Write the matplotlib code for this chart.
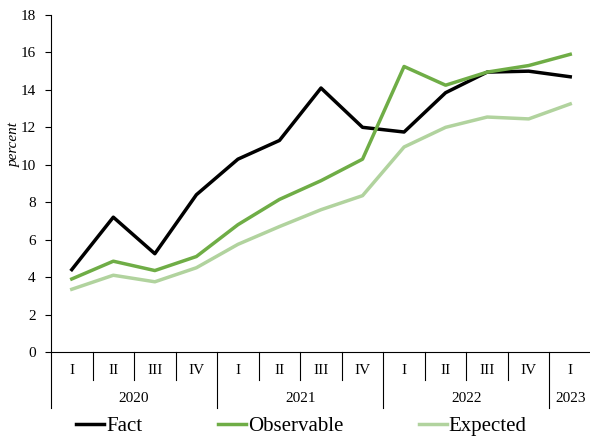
import matplotlib
matplotlib.use("Agg")
import matplotlib.pyplot as plt
import matplotlib.transforms as mtransforms

plt.rcParams['font.family'] = ['Liberation Serif', 'DejaVu Serif']

quarters = ['I', 'II', 'III', 'IV', 'I', 'II', 'III', 'IV', 'I', 'II', 'III', 'IV', 'I']
years = ['2020', '2021', '2022', '2023']
year_len = [4, 4, 4, 1]

fact = [4.4, 7.2, 5.25, 8.4, 10.3, 11.3, 14.1, 12.0, 11.75, 13.85, 14.95, 15.0, 14.7]
observable = [3.9, 4.85, 4.35, 5.1, 6.8, 8.15, 9.15, 10.3, 15.25, 14.25, 14.95, 15.3, 15.9]
expected = [3.35, 4.1, 3.75, 4.5, 5.75, 6.7, 7.6, 8.35, 10.95, 12.0, 12.55, 12.45, 13.25]

fig = plt.figure(figsize=(5.9, 4.37), dpi=100)
ax = fig.add_axes([51/590, 85/437, 540/590, 337/437])

x = list(range(len(quarters)))
ax.plot(x, fact, color='black', lw=2.5, label='Fact')
ax.plot(x, observable, color='#6fad46', lw=2.5, label='Observable')
ax.plot(x, expected, color='#b1d39e', lw=2.5, label='Expected')

ax.set_xlim(-0.5, len(quarters) - 0.5)
ax.set_ylim(0, 18)
ax.set_yticks(range(0, 19, 2))
ax.tick_params(axis='y', direction='out', length=4, width=0.8, pad=7, labelsize=11)
ax.set_xticks([])
for s in ['top', 'right']:
    ax.spines[s].set_visible(False)
ax.spines['left'].set_linewidth(0.8)
ax.spines['bottom'].set_linewidth(0.8)

# two-level category axis
trans = mtransforms.blended_transform_factory(ax.transData, ax.transAxes)
for i, q in enumerate(quarters):
    ax.text(i, -0.0555, q, transform=trans, ha='center', va='center', fontsize=11)
year_bounds = [0]
for n in year_len:
    year_bounds.append(year_bounds[-1] + n)
for i in range(1, len(quarters)):
    depth = -0.166 if i in year_bounds else -0.083
    ax.plot([i - 0.5, i - 0.5], [0, depth], transform=trans, color='black',
            lw=0.8, clip_on=False)
ax.plot([-0.5, -0.5], [0, -0.166], transform=trans, color='black', lw=0.8, clip_on=False)
for k, y in enumerate(years):
    mid = (year_bounds[k] + year_bounds[k + 1] - 1) / 2
    ax.text(mid, -0.139, y, transform=trans, ha='center', va='center', fontsize=11)

fig.text(14/590, 1 - 145/437, 'percent', rotation=90, ha='center', va='center',
         style='italic', fontsize=11)

fig.legend(loc='center', bbox_to_anchor=(0.511, 0.025), ncol=3, frameon=False,
           fontsize=15, handlelength=1.34, handletextpad=0.08, columnspacing=3.65,
           borderpad=0, borderaxespad=0)

fig.savefig('out.png', dpi=100)
